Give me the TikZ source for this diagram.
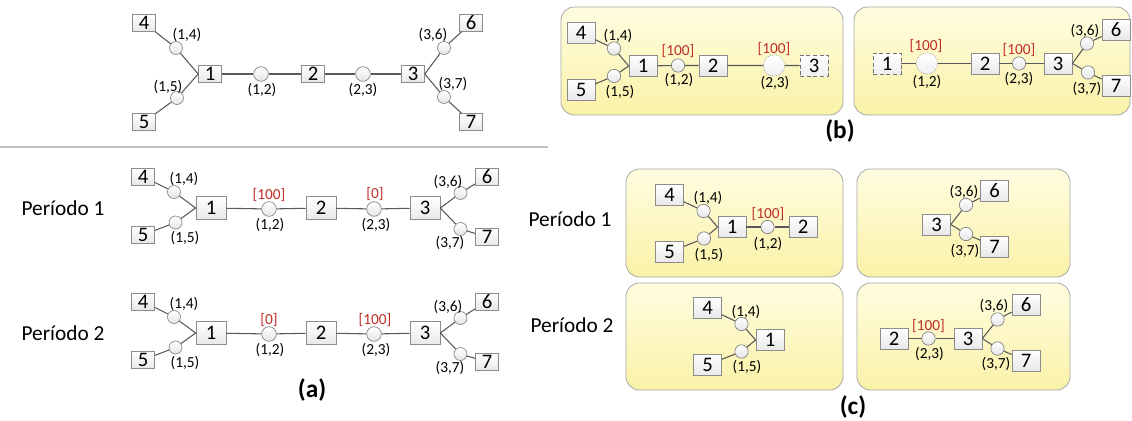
\documentclass[tikz,border=0pt]{standalone}
\usepackage{fontspec}
\setmainfont{Carlito}
\usepackage{xcolor}
\usepackage{tikz}
\usetikzlibrary{shadows}
\definecolor{flowred}{RGB}{192,45,40}
\definecolor{panelhi}{RGB}{255,253,224}
\definecolor{panello}{RGB}{250,242,168}
\tikzset{
  wire/.style={draw=black!65, line width=0.8pt},
  sepline/.style={draw=black!25, line width=0.8pt},
  nbox/.style={draw=black!45, line width=0.5pt, top color=white, bottom color=black!9, inner sep=0pt,
    minimum width=17.25pt, minimum height=12.75pt, font=\fontsize{15.5}{15.5}\selectfont,
    drop shadow={shadow xshift=0.6pt, shadow yshift=-0.6pt, opacity=0.25}},
  nboxl/.style={nbox, minimum width=22.5pt, minimum height=17.25pt},
  pbox/.style={nbox, minimum width=21pt, minimum height=15.75pt},
  ghost/.style={draw=black!55, densely dashed, top color=white, bottom color=black!6},
  link/.style={circle, draw=black!50, line width=0.5pt, top color=white, bottom color=black!10, inner sep=0pt, minimum size=9.75pt},
  linkm/.style={link, minimum size=11pt},
  plink/.style={link, minimum size=10pt},
  plinkg/.style={link, minimum size=16pt, draw=black!45, densely dotted, bottom color=black!6},
  lbl/.style={inner sep=0pt, font=\fontsize{11.5}{11.5}\selectfont},
  flow/.style={lbl, text=flowred},
  per/.style={inner sep=0pt, font=\fontsize{16}{16}\selectfont},
  captext/.style={inner sep=0pt, font=\fontsize{19}{19}\selectfont\bfseries},
  panel/.style={draw=black!35, line width=0.6pt, rounded corners=10pt, top color=panelhi, bottom color=panello},
}
\begin{document}
\begin{tikzpicture}[x=0.75pt,y=-0.75pt]
\useasboundingbox (0,0) rectangle (1132,421);

\node[nbox] (t4) at (144,23) {4};
\node[nbox] (t5) at (144,122) {5};
\node[nbox] (t1) at (210,74) {1};
\node[nbox] (t2) at (313,74) {2};
\node[nbox] (t3) at (413,74) {3};
\node[nbox] (t6) at (471,23) {6};
\node[nbox] (t7) at (471,122) {7};
\node[link] (t14) at (176,48) {};
\node[link] (t15) at (177,98) {};
\node[linkm] (t12) at (261,74) {};
\node[linkm] (t23) at (363,74) {};
\node[link] (t36) at (444,48) {};
\node[link] (t37) at (444,97) {};
\node[lbl] (t14l) at (187,35) {(1,4)};
\node[lbl] (t15l) at (168,87) {(1,5)};
\node[lbl] (t12l) at (262,90) {(1,2)};
\node[lbl] (t23l) at (363,90) {(2,3)};
\node[lbl] (t36l) at (433,35) {(3,6)};
\node[lbl] (t37l) at (453,84) {(3,7)};
\draw[wire] (t4) -- (t14) -- (t1.west);
\draw[wire] (t5) -- (t15) -- (t1.west);
\draw[wire] (t1) -- (t12) -- (t2) -- (t23) -- (t3);
\draw[wire] (t3.east) -- (t36) -- (t6);
\draw[wire] (t3.east) -- (t37) -- (t7);

\coordinate (sepa) at (0,147);
\coordinate (sepb) at (548,147);
\draw[sepline] (sepa) -- (sepb);

\node[per] (per1) at (63,208) {Período 1};
\node[nbox] (a4) at (143,176.5) {4};
\node[nbox] (a5) at (143,235) {5};
\node[nboxl] (a1) at (211,208) {1};
\node[nboxl] (a2) at (321,208) {2};
\node[nboxl] (a3) at (425,208) {3};
\node[nbox] (a6) at (487,176.5) {6};
\node[nbox] (a7) at (487,237) {7};
\node[link] (a14) at (174,192) {};
\node[link] (a15) at (175.5,222.5) {};
\node[linkm] (a12) at (269,209) {};
\node[linkm] (a23) at (374,209) {};
\node[link] (a36) at (460.5,193) {};
\node[link] (a37) at (460.5,229) {};
\node[lbl] (a14l) at (184,179) {(1,4)};
\node[lbl] (a15l) at (185,238) {(1,5)};
\node[flow] (a12f) at (269,195) {[100]};
\node[lbl] (a12l) at (270,225) {(1,2)};
\node[flow] (a23f) at (375,194) {[0]};
\node[lbl] (a23l) at (376,225) {(2,3)};
\node[lbl] (a36l) at (448,182) {(3,6)};
\node[lbl] (a37l) at (450,243) {(3,7)};
\draw[wire] (a4) -- (a14) -- (a1.west);
\draw[wire] (a5) -- (a15) -- (a1.west);
\draw[wire] (a1) -- (a12) -- (a2) -- (a23) -- (a3);
\draw[wire] (a3.east) -- (a36) -- (a6);
\draw[wire] (a3.east) -- (a37) -- (a7);

\node[per] (per2) at (63,333) {Período 2};
\node[nbox] (q4) at (143,301.5) {4};
\node[nbox] (q5) at (143,360) {5};
\node[nboxl] (q1) at (211,333) {1};
\node[nboxl] (q2) at (321,333) {2};
\node[nboxl] (q3) at (425,333) {3};
\node[nbox] (q6) at (487,301.5) {6};
\node[nbox] (q7) at (487,362) {7};
\node[link] (q14) at (174,317) {};
\node[link] (q15) at (175.5,347.5) {};
\node[linkm] (q12) at (269,334) {};
\node[linkm] (q23) at (374,334) {};
\node[link] (q36) at (460.5,318) {};
\node[link] (q37) at (460.5,354) {};
\node[lbl] (q14l) at (184,304) {(1,4)};
\node[lbl] (q15l) at (185,363) {(1,5)};
\node[flow] (q12f) at (269,320) {[0]};
\node[lbl] (q12l) at (270,350) {(1,2)};
\node[flow] (q23f) at (375,320) {[100]};
\node[lbl] (q23l) at (376,350) {(2,3)};
\node[lbl] (q36l) at (448,307) {(3,6)};
\node[lbl] (q37l) at (450,368) {(3,7)};
\draw[wire] (q4) -- (q14) -- (q1.west);
\draw[wire] (q5) -- (q15) -- (q1.west);
\draw[wire] (q1) -- (q12) -- (q2) -- (q23) -- (q3);
\draw[wire] (q3.east) -- (q36) -- (q6);
\draw[wire] (q3.east) -- (q37) -- (q7);

\node[captext] (capa) at (312,390) {(a)};

\draw[panel] (561,7) rectangle (843,115);
\draw[panel] (854,7) rectangle (1130,115);
\node[pbox] (b4) at (581,33) {4};
\node[pbox] (b5) at (581,90) {5};
\node[pbox] (b1) at (643,66) {1};
\node[pbox] (b2) at (713,65.5) {2};
\node[pbox, ghost] (b3) at (814,65.5) {3};
\node[plink] (b14) at (614,48.5) {};
\node[plink] (b15) at (614,76) {};
\node[plink] (b12) at (678,65.5) {};
\node[plinkg] (b23) at (774,65.5) {};
\node[lbl] (b14l) at (618,36) {(1,4)};
\node[lbl] (b15l) at (620,91.5) {(1,5)};
\node[flow] (b12f) at (678,51.5) {[100]};
\node[lbl] (b12l) at (679,80) {(1,2)};
\node[flow] (b23f) at (774,49) {[100]};
\node[lbl] (b23l) at (775,83) {(2,3)};
\draw[wire] (b4) -- (b14) -- (b1.west);
\draw[wire] (b5) -- (b15) -- (b1.west);
\draw[wire] (b1) -- (b12) -- (b2) -- (b23) -- (b3);

\node[pbox, ghost] (d1) at (887,63.5) {1};
\node[plinkg] (d12) at (927,63.5) {};
\node[pbox] (d2) at (985,63.5) {2};
\node[plink] (d23) at (1019,63.5) {};
\node[pbox] (d3) at (1058,63.5) {3};
\node[plink] (d36) at (1087,43.5) {};
\node[plink] (d37) at (1088,72.5) {};
\node[pbox] (d6) at (1116,29.5) {6};
\node[pbox] (d7) at (1116,86) {7};
\node[flow] (d12f) at (926,46.5) {[100]};
\node[lbl] (d12l) at (927,81.5) {(1,2)};
\node[flow] (d23f) at (1019,50) {[100]};
\node[lbl] (d23l) at (1019,78.5) {(2,3)};
\node[lbl] (d36l) at (1085,31) {(3,6)};
\node[lbl] (d37l) at (1087,88.5) {(3,7)};
\draw[wire] (d1) -- (d12) -- (d2) -- (d23) -- (d3);
\draw[wire] (d3.east) -- (d36) -- (d6);
\draw[wire] (d3.east) -- (d37) -- (d7);

\node[captext] (capb) at (840,131) {(b)};

\node[per] (per3) at (570,219) {Período 1};
\node[per] (per4) at (572,325) {Período 2};
\draw[panel] (626,169) rectangle (843,277);
\draw[panel] (626,283) rectangle (843,390);
\draw[panel] (857,169) rectangle (1070,277);
\draw[panel] (857,283) rectangle (1070,390);

\node[pbox] (e4) at (669.5,195) {4};
\node[pbox] (e5) at (669.5,252) {5};
\node[pbox] (e1) at (732,227) {1};
\node[pbox] (e2) at (803,227) {2};
\node[plink] (e14) at (703.5,211) {};
\node[plink] (e15) at (704,238.5) {};
\node[plink] (e12) at (767.5,227) {};
\node[lbl] (e14l) at (708,198) {(1,4)};
\node[lbl] (e15l) at (709,255) {(1,5)};
\node[flow] (e12f) at (768,214) {[100]};
\node[lbl] (e12l) at (768,243.5) {(1,2)};
\draw[wire] (e4) -- (e14) -- (e1.west);
\draw[wire] (e5) -- (e15) -- (e1.west);
\draw[wire] (e1) -- (e12) -- (e2);

\node[pbox] (f4) at (707.5,308) {4};
\node[pbox] (f5) at (707.5,365) {5};
\node[pbox] (f1) at (770,340) {1};
\node[plink] (f14) at (741.5,324) {};
\node[plink] (f15) at (741.5,351.5) {};
\node[lbl] (f14l) at (746,311.5) {(1,4)};
\node[lbl] (f15l) at (747,367) {(1,5)};
\draw[wire] (f4) -- (f14) -- (f1.west);
\draw[wire] (f5) -- (f15) -- (f1.west);

\node[pbox] (g3) at (936.5,224.5) {3};
\node[pbox] (g6) at (994.5,191) {6};
\node[pbox] (g7) at (994.5,246.5) {7};
\node[plink] (g36) at (966,205) {};
\node[plink] (g37) at (966,234) {};
\node[lbl] (g36l) at (964,192) {(3,6)};
\node[lbl] (g37l) at (965,251) {(3,7)};
\draw[wire] (g3.east) -- (g36) -- (g6);
\draw[wire] (g3.east) -- (g37) -- (g7);

\node[pbox] (h2) at (894,338.5) {2};
\node[pbox] (h3) at (968,338.5) {3};
\node[pbox] (h6) at (1026,304.5) {6};
\node[pbox] (h7) at (1026,360.5) {7};
\node[plink] (h23) at (928.5,338.5) {};
\node[plink] (h36) at (997.5,319.5) {};
\node[plink] (h37) at (997.5,348.5) {};
\node[flow] (h23f) at (928.5,326) {[100]};
\node[lbl] (h23l) at (929.5,354) {(2,3)};
\node[lbl] (h36l) at (994,305.5) {(3,6)};
\node[lbl] (h37l) at (996,363.5) {(3,7)};
\draw[wire] (h2) -- (h23) -- (h3);
\draw[wire] (h3.east) -- (h36) -- (h6);
\draw[wire] (h3.east) -- (h37) -- (h7);

\node[captext] (capc) at (853,407) {(c)};
\end{tikzpicture}
\end{document}
